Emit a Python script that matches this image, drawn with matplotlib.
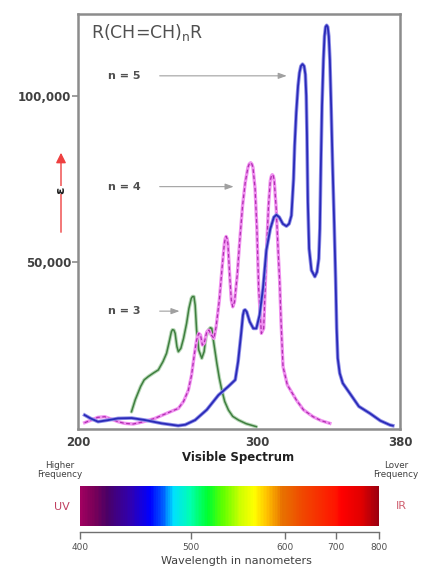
import numpy as np
import matplotlib
matplotlib.use("Agg")
import matplotlib.pyplot as plt
from matplotlib.colors import LinearSegmentedColormap

# ---------------- data ----------------
blue_x = [203.7, 207, 211.2, 216, 222.4, 230, 237.4, 246.7, 256, 260, 265.5, 272, 278.5, 284,
          287.9, 289.5, 291.2, 292.2, 292.8, 293.4, 294.3, 296, 298, 299.7, 301.5, 303.4, 305.3, 307.5,
          309.5, 310.9, 312.5, 314.5, 316.5, 318, 319.3, 320.5, 321.1, 322, 323, 323.8, 324.6, 325.5,
          326.4, 327.1, 327.6, 328, 328.5, 329.2, 330.5, 332.4, 333.6, 334.6, 335.2, 335.8, 336.4, 337.2,
          337.8, 338.4, 339, 339.6, 340.2, 340.8, 341.5, 342.3, 343.2, 344, 344.6, 345.2, 346.3, 348,
          352, 357, 363.2, 369, 374.4, 376]
blue_y = [3900, 2900, 1900, 2300, 2900, 3000, 2400, 1400, 700, 1000, 2400, 5500, 9900, 12500,
          14500, 20000, 28500, 34000, 35400, 35600, 35000, 32000, 30000, 30000, 34000, 42000, 53600, 60000,
          63500, 64200, 63500, 61500, 60800, 61500, 64000, 75000, 85000, 95000, 103000, 107000, 109000, 109600,
          109000, 106500, 100000, 88000, 68000, 54000, 47500, 45600, 47000, 51000, 60000, 80000, 97000, 111000,
          118000, 120800, 121300, 120800, 118000, 111000, 97000, 79500, 62000, 45000, 30000, 21000, 16500, 13500,
          10400, 6500, 4400, 2200, 900, 700]

mag_x = [203.7, 207.5, 211, 215, 218.5, 222.4, 226, 230.8, 236, 243, 249, 256.1, 259, 261.7, 263.5,
         265, 266.3, 267.5, 268.5, 269.5, 270.5, 272, 273.2, 274.5, 276, 277.2, 279, 280.5, 281.8,
         282.3, 282.8, 283.3, 283.8, 284.8, 285.7, 286.5, 287.5, 289, 290.5, 292, 293.5, 295, 295.7,
         296.5, 297.2, 297.8, 299, 300, 301, 302.5, 303.8, 304.5, 305.5, 306.5, 307.5, 308.1, 308.6,
         309.2, 309.7, 310.8, 312, 312.7, 313.5, 314.6, 317, 322.1, 326, 331.4, 336, 340.8]
mag_y = [1600, 2400, 3200, 3400, 2700, 1900, 1400, 1200, 1800, 2900, 4300, 5900, 8000, 11400, 16000,
         22000, 26500, 28500, 28000, 25000, 25500, 29000, 29500, 28000, 27000, 30500, 38500, 48000, 55500,
         57100, 57700, 57100, 55500, 46000, 38500, 36500, 38000, 46000, 57000, 67000, 74000, 78500, 79500,
         79900, 79500, 78500, 72000, 60000, 42000, 28500, 30000, 40000, 55000, 67000, 74500, 75900, 76300,
         75900, 74500, 66000, 52000, 44600, 32000, 18500, 13000, 8400, 5500, 3400, 2200, 1400]

green_x = [229.9, 232, 235, 237, 239.3, 242, 244.9, 247.5, 249.5, 251, 252.2, 252.8, 253.6, 254.3,
           255.3, 256.1, 257.5, 259, 260.7, 262, 263.3, 264, 264.8, 265.5, 266.3, 267.5, 269.2, 270.5,
           271.5, 272.9, 274, 274.8, 275.8, 277.6, 279, 280.4, 282, 284.1, 286.5, 289.7, 294, 299.7]
green_y = [4900, 8500, 12500, 14500, 15500, 16500, 17500, 20000, 22500, 26000, 29000, 29600, 29500,
           28500, 24500, 23000, 24000, 27000, 31500, 36000, 39000, 39600, 39600, 37000, 29500, 23500,
           21000, 23000, 27500, 29500, 30200, 30000, 26000, 19500, 15000, 11400, 8000, 5400, 3500, 2400,
           1300, 400]

x_ticks = [200, 300, 380]
x_tick_labels = ["200", "300", "380"]
y_ticks = [50000, 100000]
y_tick_labels = ["50,000", "100,000"]
series_labels = ["n = 5", "n = 4", "n = 3"]

wl_ticks = [400, 500, 600, 700, 800]
wl_tick_labels = ["400", "500", "600", "700", "800"]
# colour stops of the visible-spectrum bar (wavelength, colour)
spec_wl = [400, 412, 424, 445, 463, 475, 484, 499, 518, 534, 552, 567, 581, 597, 634, 700, 712, 760, 800]
spec_col = ["#a00060", "#7a0058", "#4a0066", "#3000b0", "#0000ff", "#0060ff", "#00e0ff", "#00ffb0",
            "#00ff30", "#60ff00", "#ccff00", "#ffff00", "#ffc000", "#e87000", "#f04800", "#ff1400",
            "#ff0000", "#e00000", "#9a0010"]

# ---------------- figure ----------------
fig = plt.figure(figsize=(4.25, 5.67), dpi=100)
W, H = 425, 567

def fig_rect(l, t, r, b):
    return [l / W, 1 - b / H, (r - l) / W, (b - t) / H]

ax = fig.add_axes(fig_rect(78, 14, 400, 429))
ax.set_xlim(200, 380)
ax.set_ylim(-300, 124700)

frame_col = "#8c8c8c"
for s in ax.spines.values():
    s.set_color(frame_col)
    s.set_linewidth(1.8)

# curves
ax.plot(green_x, green_y, color="#b8d8b8", lw=2.6, solid_capstyle="round", zorder=2)
ax.plot(green_x, green_y, color="#3f7f3f", lw=1.1, zorder=3)
ax.plot(mag_x, mag_y, color="#f090f0", lw=2.4, zorder=4)
ax.plot(mag_x, mag_y, color="#b030b0", lw=0.9, dashes=(3, 2), zorder=5)
ax.plot(blue_x, blue_y, color="#9090e8", lw=2.6, zorder=6)
ax.plot(blue_x, blue_y, color="#2a2ab8", lw=1.3, zorder=7)

ax.set_xticks(x_ticks)
ax.set_xticklabels(x_tick_labels)
ax.set_yticks(y_ticks)
ax.set_yticklabels(y_tick_labels)
ax.tick_params(axis="x", length=0, pad=5, labelsize=8.5, labelcolor="#404040")
ax.tick_params(axis="y", length=4, width=1.2, color=frame_col, pad=1, labelsize=8.5,
               labelcolor="#404040")
for lab in ax.get_xticklabels() + ax.get_yticklabels():
    lab.set_fontweight("bold")

ax.text(0.04, 0.955, r"R(CH=CH)$_\mathregular{n}$R", transform=ax.transAxes,
        fontsize=12.5, color="#505050", va="center", ha="left")

label_pos = [(0.851, 0.657), (0.584, 0.492), (0.284, 0.324)]
for lab, (yy, xend) in zip(series_labels, label_pos):
    ax.text(0.093, yy, lab, transform=ax.transAxes, fontsize=8, fontweight="bold",
            color="#505050", va="center", ha="left")
    ax.annotate("", xy=(xend, yy), xycoords="axes fraction",
                xytext=(0.245, yy), textcoords="axes fraction",
                arrowprops=dict(arrowstyle="-|>,head_length=0.5,head_width=0.18",
                                color="#a0a0a0", lw=0.8))

# epsilon label with red arrow
fig.patches.append(matplotlib.patches.FancyArrowPatch(
    (61 / W, 1 - 235 / H), (61 / W, 1 - 150 / H), transform=fig.transFigure,
    arrowstyle="-|>,head_length=4,head_width=2", color="#ee4040", lw=1.0, mutation_scale=1.5))
fig.text(61 / W, 1 - 190 / H, "ε", rotation=90, ha="center", va="center", fontsize=9.5,
         fontweight="bold", color="#202020",
         bbox=dict(facecolor="white", edgecolor="none", pad=0.5))

fig.text(238 / W, 1 - 457 / H, "Visible Spectrum", ha="center", va="center", fontsize=8.5,
         fontweight="bold", color="#202020")
fig.text(60 / W, 1 - 470 / H, "Higher\nFrequency", ha="center", va="center", fontsize=6.3,
         color="#404040", linespacing=1.0)
fig.text(396 / W, 1 - 470 / H, "Lover\nFrequency", ha="center", va="center", fontsize=6.3,
         color="#404040", linespacing=1.0)
fig.text(62 / W, 1 - 507 / H, "UV", ha="center", va="center", fontsize=8, color="#c04060")
fig.text(401 / W, 1 - 506 / H, "IR", ha="center", va="center", fontsize=8, color="#d06070")

# ---------------- spectrum bar ----------------
bx = fig.add_axes(fig_rect(80, 486, 379, 532))
tick_frac = [0.0, 0.370, 0.686, 0.856, 1.0]

def fwd(w):
    return np.interp(w, wl_ticks, tick_frac)

def inv(p):
    return np.interp(p, tick_frac, wl_ticks)

bx.set_xscale("function", functions=(fwd, inv))
bx.set_xlim(wl_ticks[0], wl_ticks[-1])
bx.set_ylim(0, 1)
cmap = LinearSegmentedColormap.from_list(
    "spec", list(zip((np.array(spec_wl) - 400) / 400.0, spec_col)))
edges = inv(np.linspace(-0.01, 1.01, 400))
vals = ((edges[:-1] + edges[1:]) / 2 - 400) / 400.0
bx.pcolormesh(edges, [0.14, 1.0], vals[np.newaxis, :], cmap=cmap, vmin=0, vmax=1,
              shading="flat", clip_on=False)
for k in ["top", "left", "right"]:
    bx.spines[k].set_visible(False)
bx.spines["bottom"].set_color("#707070")
bx.spines["bottom"].set_linewidth(1.0)
bx.set_yticks([])
bx.set_xticks(wl_ticks)
bx.set_xticklabels(wl_tick_labels)
bx.xaxis.set_minor_locator(matplotlib.ticker.NullLocator())
bx.tick_params(axis="x", length=5, width=1.0, color="#707070", labelsize=6.5,
               labelcolor="#505050", pad=3)
fig.text(236 / W, 1 - 561 / H, "Wavelength in nanometers", ha="center", va="center",
         fontsize=8, color="#404040")

fig.savefig("out.png", dpi=100)
